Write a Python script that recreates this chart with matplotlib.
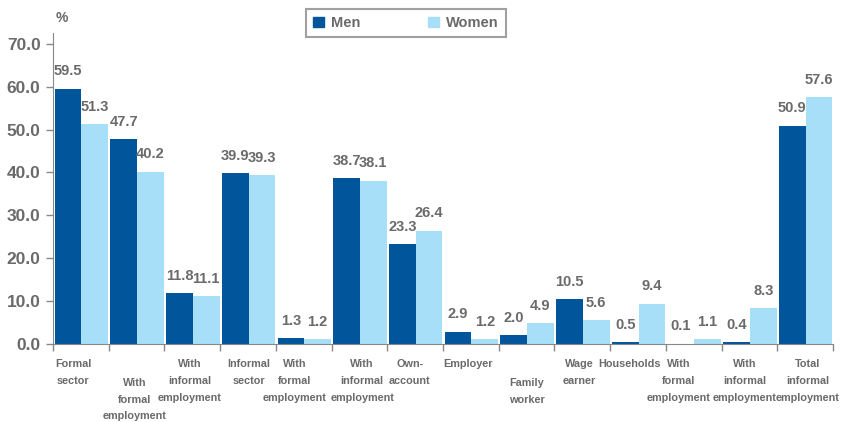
import matplotlib.pyplot as plt
import numpy as np
from matplotlib.patches import Patch

categories = [
    "Formal\nsector", "With\nformal\nemployment", "With\ninformal\nemployment",
    "Informal\nsector", "With\nformal\nemployment", "With\ninformal\nemployment",
    "Own-\naccount", "Employer", "Family\nworker", "Wage\nearner", "Households",
    "With\nformal\nemployment", "With\ninformal\nemployment",
    "Total\ninformal\nemployment",
]
men = [59.5, 47.7, 11.8, 39.9, 1.3, 38.7, 23.3, 2.9, 2.0, 10.5, 0.5, 0.1, 0.4, 50.9]
women = [51.3, 40.2, 11.1, 39.3, 1.2, 38.1, 26.4, 1.2, 4.9, 5.6, 9.4, 1.1, 8.3, 57.6]

# label placement: horizontal nudge (category units) and whether it drops one line
label_dx = [-0.14, -0.04, -0.04, 0.02, -0.17, 0.05, -0.1, -0.05, 0.0, -0.05, -0.15, -0.27, -0.09, 0.04]
label_drop = [0, 1, 0, 0, 0, 0, 0, 0, 1, 0, 0, 0, 0, 0]

MEN_C = "#00559b"
WOMEN_C = "#a8dff8"
GREY = "#6a6a6a"
AXIS = "#888888"

plt.rcParams["font.family"] = ["Liberation Sans", "DejaVu Sans"]

fig = plt.figure(figsize=(8.43, 4.22), dpi=100)
ax = fig.add_axes([53 / 843, 1 - 344 / 422, 780 / 843, 311 / 422])

x = np.arange(len(categories))
w = 0.48
ax.bar(x - w / 2 + 0.01, men, w, color=MEN_C)
ax.bar(x + w / 2 + 0.01, women, w, color=WOMEN_C)

for i in x:
    ax.text(i - w / 2 + 0.01, men[i] + 2.4, f"{men[i]:.1f}", ha="center", va="bottom",
            fontsize=10.5, fontweight="bold", color=GREY)
    ax.text(i + w / 2 + 0.01, women[i] + 2.4, f"{women[i]:.1f}", ha="center", va="bottom",
            fontsize=10.5, fontweight="bold", color=GREY)

ax.set_xlim(-0.5, len(categories) - 0.5)
ax.set_ylim(0, 72.5)
ax.set_yticks(np.arange(0, 71, 10))
ax.set_yticklabels([f"{v:.1f}" for v in np.arange(0, 71, 10)],
                   fontsize=12.5, fontweight="bold", color=GREY)
ax.set_xticks(np.arange(-0.5, len(categories), 1))
ax.set_xticklabels([])
ax.tick_params(axis="both", direction="out", length=5, color=AXIS, width=1)
ax.tick_params(axis="y", pad=4)

for s in ["top", "right"]:
    ax.spines[s].set_visible(False)
for s in ["left", "bottom"]:
    ax.spines[s].set_color(AXIS)

for i, lab in enumerate(categories):
    ax.annotate(lab, xy=(i + label_dx[i], 0), xycoords=("data", "axes fraction"),
                xytext=(0, -11 - 13.3 * label_drop[i]), textcoords="offset points",
                ha="center", va="top", fontsize=7.8, fontweight="bold", color=GREY,
                linespacing=1.85)

fig.text(62 / 843, 1 - 18 / 422, "%", fontsize=10, fontweight="bold", color=GREY,
         ha="center", va="center")

handles = [Patch(color=MEN_C, label="Men"), Patch(color=WOMEN_C, label="Women")]
leg = fig.legend(handles=handles, loc="center", bbox_to_anchor=(406 / 843, 1 - 23 / 422),
                 ncol=2, frameon=True, fancybox=False, fontsize=10.5, handlelength=0.75,
                 handleheight=0.75, columnspacing=4.6, handletextpad=0.5,
                 borderpad=0.5)
leg.get_frame().set_edgecolor(AXIS)
leg.get_frame().set_linewidth(1.5)
for t in leg.get_texts():
    t.set_color(GREY)
    t.set_fontweight("bold")

fig.savefig("out.png", dpi=100)
